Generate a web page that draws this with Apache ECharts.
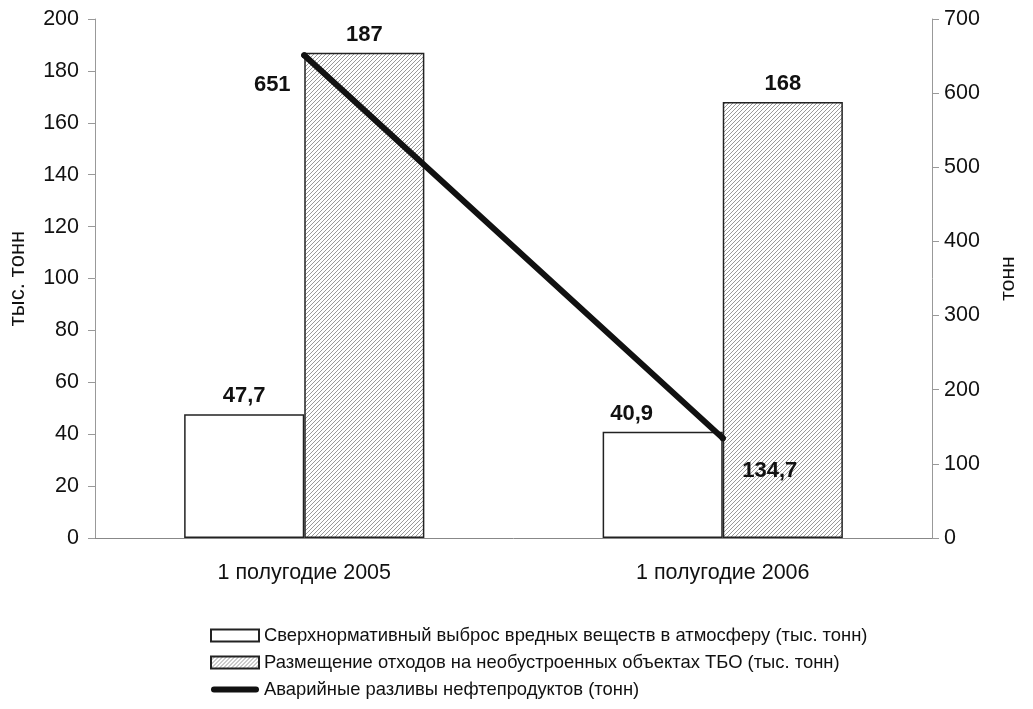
<!DOCTYPE html>
<html><head><meta charset="utf-8">
<script src="https://cdn.jsdelivr.net/npm/echarts@6/dist/echarts.min.js"></script>
<style>html,body{margin:0;padding:0;background:#fff}#c{width:1033px;height:709px}</style>
</head><body><div id="c"></div>
<script>
const categories = ['1 полугодие 2005', '1 полугодие 2006'];
const emissions = [47.7, 40.9];
const waste = [187, 168];
const spills = [651, 134.7];
const seriesNames = [
  'Сверхнормативный выброс вредных веществ в атмосферу (тыс. тонн)',
  'Размещение отходов на необустроенных объектах ТБО (тыс. тонн)',
  'Аварийные разливы нефтепродуктов (тонн)'
];
const fmt = v => String(v).replace('.', ',');

function hatch() {
  const c = document.createElement('canvas');
  c.width = 4; c.height = 4;
  const g = c.getContext('2d');
  g.fillStyle = '#fff'; g.fillRect(0, 0, 4, 4);
  g.strokeStyle = '#9a9a9a'; g.lineWidth = 1;
  g.beginPath();
  g.moveTo(0, 4); g.lineTo(4, 0);
  g.moveTo(-1, 1); g.lineTo(1, -1);
  g.moveTo(3, 5); g.lineTo(5, 3);
  g.stroke();
  return c;
}
const pattern = { image: hatch(), repeat: 'repeat' };
const FONT = 'Liberation Sans';
const chart = echarts.init(document.getElementById('c'));
chart.setOption({
  backgroundColor: '#fff',
  animation: false,
  textStyle: { fontFamily: FONT },
  grid: { left: 95, right: 101, top: 19, bottom: 171, outerBoundsMode: 'none', containLabel: false },
  legend: {
    orient: 'vertical', left: 210, top: 626, padding: 0, itemWidth: 48, itemHeight: 12, itemGap: 8,
    textStyle: { fontFamily: FONT, fontSize: 18.4, color: '#111', lineHeight: 19 },
    data: [
      { name: seriesNames[0], icon: 'rect' },
      { name: seriesNames[1], icon: 'rect' },
      { name: seriesNames[2], icon: 'path://M3,0 L45,0 A3,3 0 0 1 45,6 L3,6 A3,3 0 0 1 3,0 Z',
        itemStyle: { color: '#111', borderWidth: 0 } }
    ]
  },
  xAxis: {
    type: 'category', data: categories,
    axisLine: { lineStyle: { color: '#888', width: 1 } },
    axisTick: { length: 7, lineStyle: { color: '#888' } },
    axisLabel: { fontSize: 21.5, color: '#111', margin: 24 }
  },
  yAxis: [
    {
      type: 'value', min: 0, max: 200, interval: 20,
      name: 'тыс. тонн', nameLocation: 'middle', nameGap: 66, nameRotate: 90,
      nameTextStyle: { fontSize: 22, color: '#111' },
      axisLine: { show: true, lineStyle: { color: '#999' } },
      axisTick: { show: true, length: 7, lineStyle: { color: '#999' } },
      axisLabel: { fontSize: 21.5, color: '#111', margin: 16 },
      splitLine: { show: false }
    },
    {
      type: 'value', min: 0, max: 700, interval: 100, position: 'right',
      name: 'тонн', nameLocation: 'middle', nameGap: 66, nameRotate: 90,
      nameTextStyle: { fontSize: 21, color: '#111' },
      axisLine: { show: true, lineStyle: { color: '#999' } },
      axisTick: { show: true, length: 7, lineStyle: { color: '#999' } },
      axisLabel: { fontSize: 21.5, color: '#111', margin: 12 },
      splitLine: { show: false }
    }
  ],
  series: [
    {
      name: seriesNames[0], type: 'bar', data: emissions, yAxisIndex: 0,
      barGap: '0%', barCategoryGap: '42.6%',
      itemStyle: { color: '#fff', borderColor: '#222', borderWidth: 1.5 },
      label: {
        show: true, position: 'top', distance: 7, fontSize: 22, fontWeight: 'bold', color: '#111',
        formatter: p => fmt(p.value)
      },
      labelLayout: p => p.dataIndex === 1 ? { dx: -31 } : {}
    },
    {
      name: seriesNames[1], type: 'bar', data: waste, yAxisIndex: 0,
      itemStyle: { color: pattern, borderColor: '#222', borderWidth: 1.5 },
      label: {
        show: true, position: 'top', distance: 7, fontSize: 22, fontWeight: 'bold', color: '#111',
        formatter: p => fmt(p.value)
      }
    },
    {
      name: seriesNames[2], type: 'line', data: spills, yAxisIndex: 1,
      symbol: 'circle', symbolSize: 6, showSymbol: true, z: 10,
      lineStyle: { color: '#111', width: 6, cap: 'round' },
      itemStyle: { color: '#111' },
      label: {
        show: true, fontSize: 22, fontWeight: 'bold', color: '#111',
        formatter: p => fmt(p.value)
      },
      labelLayout: p => p.dataIndex === 0
        ? { x: p.rect.x + p.rect.width / 2 - 32, y: p.rect.y + p.rect.height / 2 + 30, align: 'center', verticalAlign: 'middle' }
        : { x: p.rect.x + p.rect.width / 2 + 47, y: p.rect.y + p.rect.height / 2 + 33, align: 'center', verticalAlign: 'middle' }
    }
  ]
});
</script></body></html>
